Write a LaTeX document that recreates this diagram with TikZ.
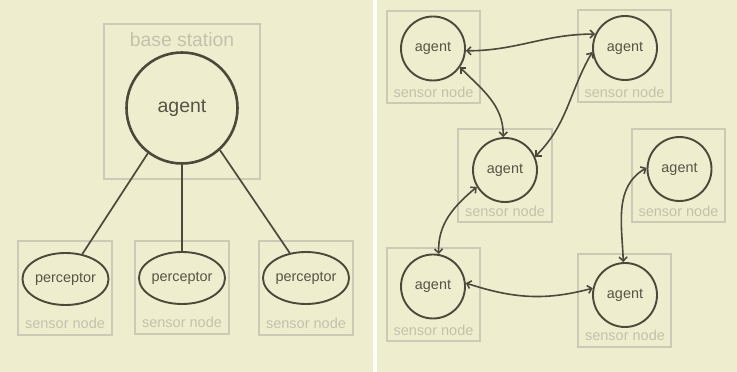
\documentclass[tikz,border=0pt]{standalone}
\usepackage{fontspec}
\setmainfont{Liberation Sans}
\usetikzlibrary{shapes.geometric,arrows.meta}
\definecolor{paper}{HTML}{EEEECE}
\definecolor{boxline}{HTML}{CACAB6}
\definecolor{boxtext}{HTML}{C2C2AC}
\definecolor{ink}{HTML}{4B493B}
\definecolor{inktext}{HTML}{555446}
\begin{document}
\begin{tikzpicture}[x=1pt,y=1pt,
  hostbox/.style={draw=boxline, line width=1.3pt},
  hostlabel/.style={text=boxtext, inner sep=0pt, font=\fontsize{14.5}{16}\selectfont},
  stationlabel/.style={text=boxtext, inner sep=0pt, font=\fontsize{19.3}{22}\selectfont},
  bigagent/.style={circle, draw=ink, line width=2.6pt, minimum size=111pt, inner sep=0pt,
    text=inktext, font=\fontsize{19.5}{22}\selectfont},
  agentnode/.style={circle, draw=ink, line width=1.9pt, minimum size=64pt, inner sep=0pt,
    text=inktext, font=\fontsize{14.4}{16}\selectfont},
  perceptornode/.style={ellipse, draw=ink, line width=1.9pt, minimum width=85pt,
    minimum height=52pt, inner sep=0pt, text=inktext, font=\fontsize{14.4}{16}\selectfont},
  link/.style={draw=ink, line width=1.7pt},
  duplex/.style={draw=ink, line width=1.6pt,
    {Straight Barb[length=4pt,width=8pt]}-{Straight Barb[length=4pt,width=8pt]}}
]
% canvas: two panels separated by a white strip
\fill[paper] (0,0) rectangle (737,372);
\fill[white] (372.5,0) rectangle (377,372);
\useasboundingbox (0,0) rectangle (737,372);

% ---------- left panel: centralised ----------
\draw[hostbox] (104,193) rectangle (260,348);
\node[stationlabel] (bslabel) at (182,332.7) {base station};
\node[bigagent] (hub) at (182,264) {agent};

\draw[hostbox] (18,37) rectangle (112,131);
\draw[hostbox] (135,38) rectangle (229,131);
\draw[hostbox] (259,37) rectangle (353,131);
\node[perceptornode] (p1) at (65.5,93) {perceptor};
\node[perceptornode] (p2) at (182,94) {perceptor};
\node[perceptornode] (p3) at (306,94) {perceptor};
\node[hostlabel] (s1) at (65,49) {sensor node};
\node[hostlabel] (s2) at (182,49.5) {sensor node};
\node[hostlabel] (s3) at (306,49) {sensor node};

\draw[link] (hub.-127) -- (p1.56);
\draw[link] (hub.south) -- (p2.north);
\draw[link] (hub.-48) -- (p3.123);

% ---------- right panel: distributed ----------
\draw[hostbox] (387,269) rectangle (480,361);
\draw[hostbox] (578,270) rectangle (671,362);
\draw[hostbox] (458,150) rectangle (552,243);
\draw[hostbox] (632,150) rectangle (725,243);
\draw[hostbox] (387,31) rectangle (480,124);
\draw[hostbox] (578,25) rectangle (671,118);

\node[agentnode] (a1) at (433,323.5) {agent};
\node[agentnode] (a2) at (625,324) {agent};
\node[agentnode] (a3) at (505,202) {agent};
\node[agentnode] (a4) at (679.5,203) {agent};
\node[agentnode] (a5) at (433,85.5) {agent};
\node[agentnode] (a6) at (625,77) {agent};

\node[hostlabel] (l1) at (433.5,279.3) {sensor node};
\node[hostlabel] (l2) at (624.5,279.8) {sensor node};
\node[hostlabel] (l3) at (505,160.7) {sensor node};
\node[hostlabel] (l4) at (678.5,160.7) {sensor node};
\node[hostlabel] (l5) at (433.5,41.5) {sensor node};
\node[hostlabel] (l6) at (625,36.5) {sensor node};

\draw[duplex] (a1.-4) to[out=0,in=180] (a2.155);
\draw[duplex] (a1.-35) to[out=-45,in=90] (a3.93);
\draw[duplex] (a2.187) to[out=240,in=45] (a3.24);
\draw[duplex] (a3.211) to[out=220,in=92] (a5.80);
\draw[duplex] (a5.6) to[out=-18,in=195] (a6.168);
\draw[duplex] (a6.93) to[out=92,in=210] (a4.178);
\end{tikzpicture}
\end{document}
